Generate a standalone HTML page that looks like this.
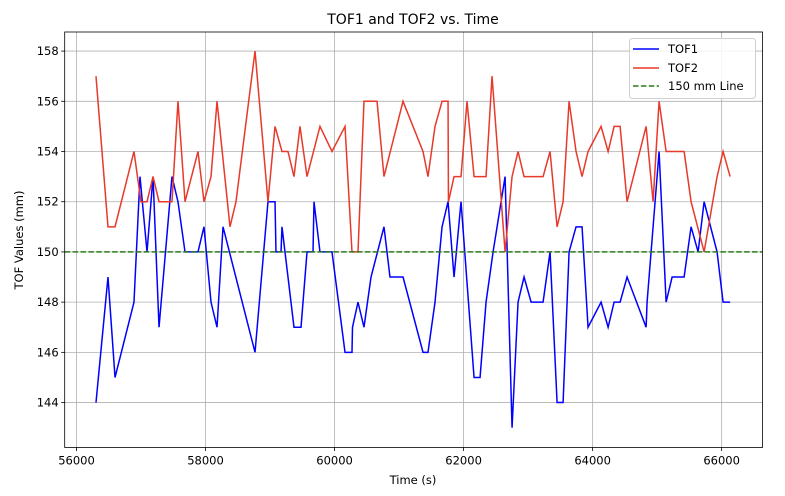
<!DOCTYPE html>
<html><head><meta charset="utf-8"><style>
body{margin:0;background:#fff;font-family:"Liberation Sans","DejaVu Sans",sans-serif}
svg text{font-family:"DejaVu Sans","Liberation Sans",sans-serif}
</style></head><body>
<svg id="chart" width="785" height="491" xmlns="http://www.w3.org/2000/svg"></svg>
<script>
const tof1Time=[56302,56488,56597,56891,56984,57093,57186,57279,57480,57573,57682,57883,57976,58085,58178,58271,58767,58968,59077,59092,59170,59185,59371,59480,59573,59666,59681,59774,59960,60162,60270,60278,60363,60456,60565,60766,60859,61061,61371,61448,61557,61666,61759,61852,61960,62162,62255,62348,62457,62643,62751,62844,62937,63046,63232,63340,63449,63542,63635,63743,63836,63929,64131,64240,64333,64426,64534,64829,64844,65030,65139,65232,65418,65526,65635,65728,65929,66022,66131];
const tof1Values=[144,149,145,148,153,150,153,147,153,152,150,150,151,148,147,151,146,152,152,150,150,151,147,147,150,150,152,150,150,146,146,147,148,147,149,151,149,149,146,146,148,151,152,149,152,145,145,148,150,153,143,148,149,148,148,150,144,144,150,151,151,147,148,147,148,148,149,147,148,154,148,149,149,151,150,152,150,148,148];
const tof2Time=[56302,56488,56597,56891,56999,57093,57186,57279,57480,57573,57682,57883,57976,58085,58178,58379,58472,58767,58968,59077,59185,59278,59371,59464,59573,59774,59960,60162,60270,60363,60456,60658,60766,61061,61371,61448,61557,61666,61759,61765,61852,61960,62053,62162,62348,62441,62643,62751,62844,62937,63232,63340,63449,63542,63635,63743,63836,63929,64131,64240,64333,64426,64534,64829,64937,65030,65139,65418,65526,65728,65929,66022,66131];
const tof2Values=[157,151,151,154,152,152,153,152,152,156,152,154,152,153,156,151,152,158,152,155,154,154,153,155,153,155,154,155,150,150,156,156,153,156,154,153,155,156,156,152,153,153,156,153,153,157,150,153,154,153,153,154,151,152,156,154,153,154,155,154,155,155,152,155,152,156,154,154,152,150,153,154,153];
const xTicks=[56000,58000,60000,62000,64000,66000];
const yTicks=[144,146,148,150,152,154,156,158];
const refValue=150;

const L=64.7,R=762.5,T=32,B=447.5;
const xMin=55817,xMax=66633,yMin=142.21,yMax=158.76;
const sx=v=>L+(v-xMin)/(xMax-xMin)*(R-L);
const sy=v=>B-(v-yMin)/(yMax-yMin)*(B-T);
const svg=document.getElementById('chart');
const NS='http://www.w3.org/2000/svg';
function mk(tag,attrs,parent){const e=document.createElementNS(NS,tag);for(const k in attrs)e.setAttribute(k,attrs[k]);(parent||svg).appendChild(e);return e;}

const grid=mk('g',{});


xTicks.forEach(t=>{
  const x=sx(t);
  const gl=mk('line',{x1:x,x2:x,y1:T,y2:B,stroke:'#b0b0b0','stroke-width':0.8},grid);
  
  
  const tk=mk('line',{x1:x,x2:x,y1:B,y2:B+3.5,stroke:'#000','stroke-width':0.8});
  
  
  const tl=mk('text',{x:x,y:B+17,'text-anchor':'middle','font-size':'11.5px',fill:'#000'});
  tl.textContent=t;
  
  
});
yTicks.forEach(t=>{
  const y=sy(t);
  const gl=mk('line',{x1:L,x2:R,y1:y,y2:y,stroke:'#b0b0b0','stroke-width':0.8},grid);
  
  
  const tk=mk('line',{x1:L-3.5,x2:L,y1:y,y2:y,stroke:'#000','stroke-width':0.8});
  
  
  const tl=mk('text',{x:L-6,y:y+4,'text-anchor':'end','font-size':'11.5px',fill:'#000'});
  tl.textContent=t;
  
  
});
function line(ts,vs,color,name){
  const p=mk('polyline',{points:ts.map((t,i)=>sx(t)+','+sy(vs[i])).join(' '),fill:'none',stroke:color,'stroke-width':1.5,'stroke-linejoin':'miter'});
  
  
}
line(tof1Time,tof1Values,'#0000ff','tof1-line');
line(tof2Time,tof2Values,'#e8392a','tof2-line');
const ref=mk('line',{x1:L,x2:R,y1:sy(refValue),y2:sy(refValue),stroke:'#2a7a1a','stroke-width':1.5,'stroke-dasharray':'5.5,2.4'});


const frame=mk('rect',{x:L,y:T,width:R-L,height:B-T,fill:'none',stroke:'#000','stroke-width':0.8});


</script>
<svg style="position:absolute;left:0;top:0" width="785" height="491" xmlns="http://www.w3.org/2000/svg">
<text x="413" y="24" text-anchor="middle" font-size="14px" fill="#000">TOF1 and TOF2 vs. Time</text>
<text x="413" y="484" text-anchor="middle" font-size="11.5px" fill="#000">Time (s)</text>
<text x="0" y="0" transform="translate(23,240) rotate(-90)" text-anchor="middle" font-size="11.5px" fill="#000">TOF Values (mm)</text>
<g>
<rect x="629.5" y="38.5" width="126" height="60" rx="3" fill="#fff" fill-opacity="0.85" stroke="#d0d0d0"/>
<g><line x1="633" x2="659" y1="49" y2="49" stroke="#0000ff" stroke-width="1.5"/><text x="668" y="53" font-size="11.5px">TOF1</text></g>
<g><line x1="633" x2="659" y1="68" y2="68" stroke="#e8392a" stroke-width="1.5"/><text x="668" y="72" font-size="11.5px">TOF2</text></g>
<g><line x1="633" x2="659" y1="86" y2="86" stroke="#2a7a1a" stroke-width="1.5" stroke-dasharray="5.5,2.4"/><text x="668" y="90" font-size="11.5px">150 mm Line</text></g>
</g>
</svg>
</body></html>
